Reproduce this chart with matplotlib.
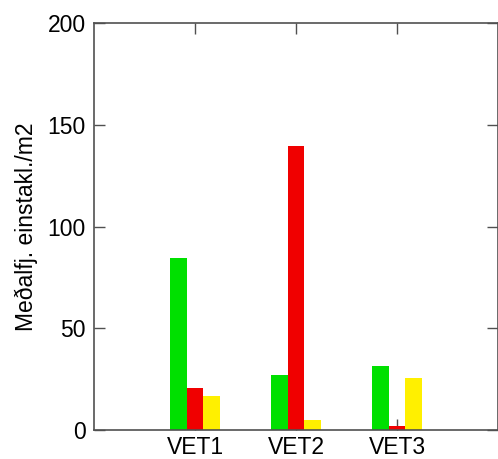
import matplotlib
matplotlib.use("Agg")
import matplotlib.pyplot as plt
import numpy as np

plt.rcParams['font.family'] = ['Liberation Sans', 'DejaVu Sans']

categories = ["VET1", "VET2", "VET3"]
green_vals = [84.4, 27.0, 31.6]
red_vals = [20.8, 139.6, 2.0]
yellow_vals = [16.7, 4.9, 25.6]
y_ticks = [0, 50, 100, 150, 200]

fig = plt.figure(figsize=(4.98, 4.59), dpi=100)
ax = fig.add_axes([94/498, 29/459, 404/498, 407/459])

x = np.arange(1, len(categories) + 1)
w = 0.168
ax.bar(x - w, green_vals, w, color="#00e000", zorder=2)
ax.bar(x, red_vals, w, color="#f00000", zorder=2)
ax.bar(x + w, yellow_vals, w, color="#fff000", zorder=2)

ax.set_xlim(0, 4)
ax.set_ylim(0, 200)
ax.set_xticks(x)
ax.set_xticklabels(categories)
ax.set_yticks(y_ticks)
ax.set_axisbelow(True)
for sp in ax.spines.values():
    sp.set_color("#505050")
    sp.set_linewidth(1.2)
ax.tick_params(axis="both", direction="in", length=8, width=1, color="#505050",
               labelsize=16.5, top=True, right=True, pad=6)
ax.tick_params(axis="x", pad=4)
ax.set_ylabel("Meðalfj. einstakl./m2", fontsize=16.5, labelpad=7)

fig.savefig("out.png", dpi=100)
